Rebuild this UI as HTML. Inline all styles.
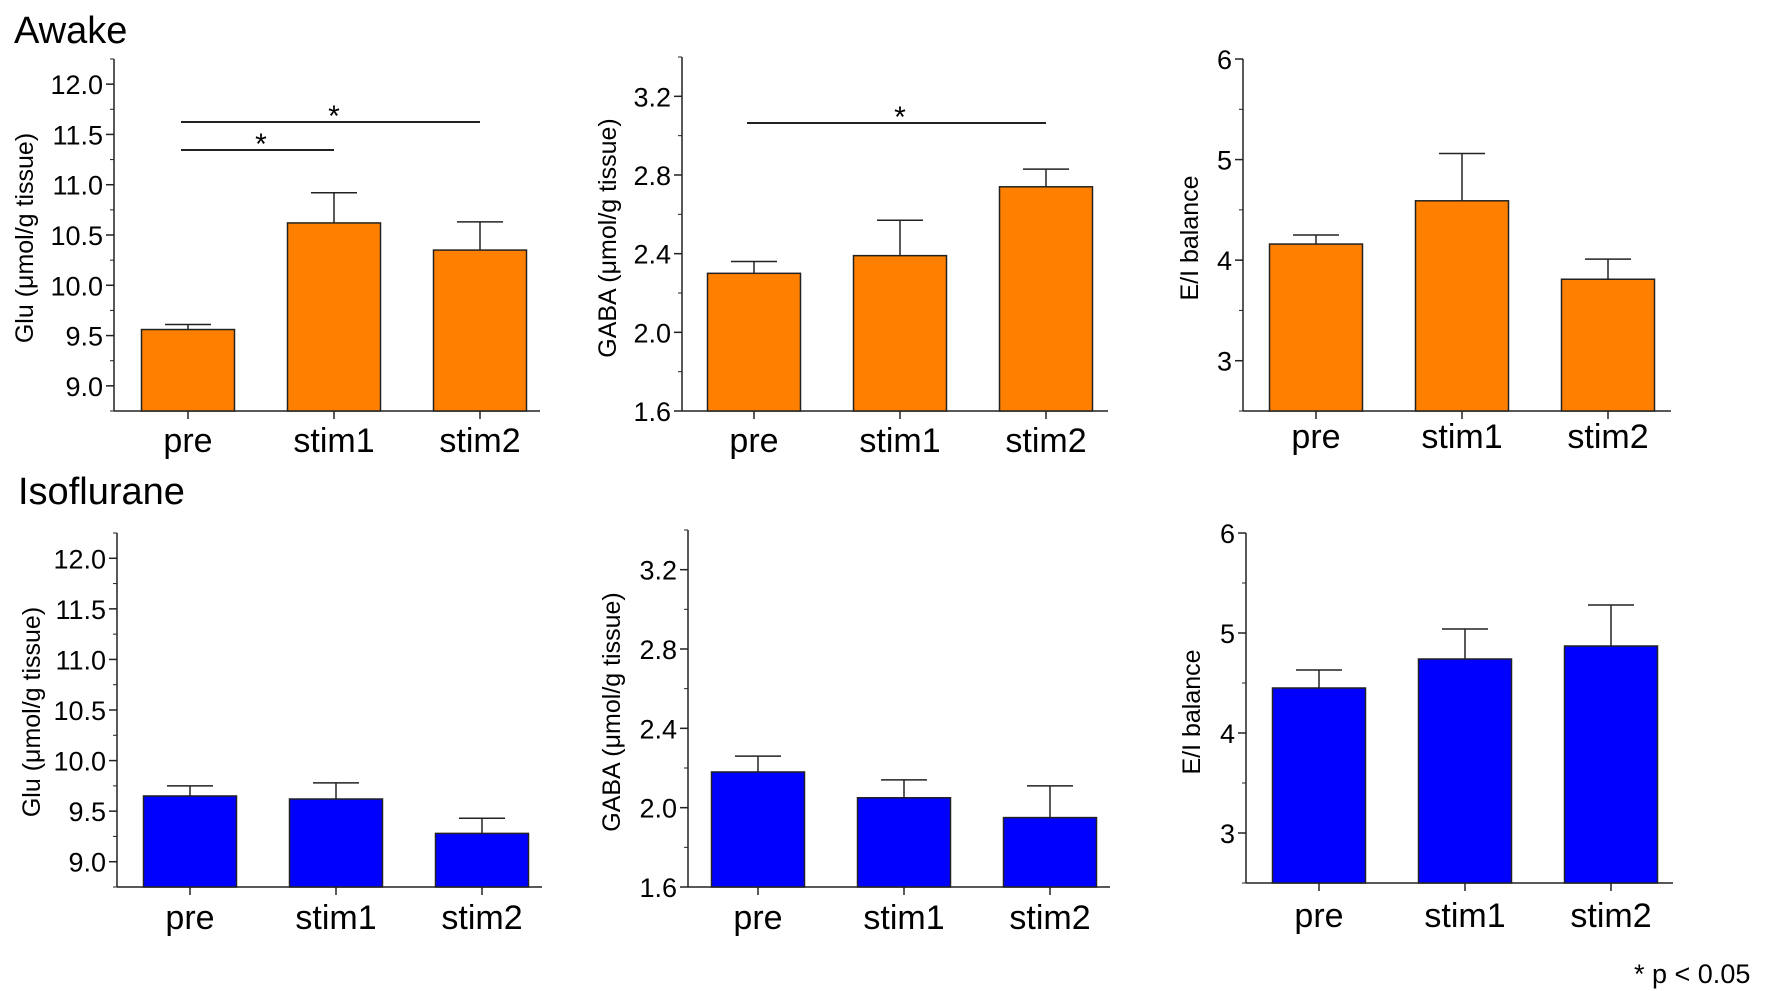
<!DOCTYPE html>
<html><head><meta charset="utf-8"><style>
body{margin:0;background:#fff;}
svg{display:block;font-family:"Liberation Sans Narrow","Liberation Sans",sans-serif;}
</style></head><body>
<svg id="fig" width="1768" height="991" viewBox="0 0 1768 991" xmlns="http://www.w3.org/2000/svg">
<text x="14" y="43" font-size="38" font-family="Liberation Sans, sans-serif">Awake</text>
<text x="18" y="504" font-size="38" font-family="Liberation Sans, sans-serif">Isoflurane</text>
<text x="1634" y="983" font-size="27" font-family="Liberation Sans, sans-serif">* p &lt; 0.05</text>
</svg>
<script>
const categories = ["pre","stim1","stim2"];
const awakeGlu = [9.56, 10.62, 10.35];
const awakeGluErr = [0.05, 0.30, 0.28];
const awakeGaba = [2.30, 2.39, 2.74];
const awakeGabaErr = [0.06, 0.18, 0.09];
const awakeEI = [4.16, 4.59, 3.81];
const awakeEIErr = [0.09, 0.47, 0.20];
const isoGlu = [9.65, 9.62, 9.28];
const isoGluErr = [0.10, 0.16, 0.15];
const isoGaba = [2.18, 2.05, 1.95];
const isoGabaErr = [0.08, 0.09, 0.16];
const isoEI = [4.45, 4.74, 4.87];
const isoEIErr = [0.18, 0.30, 0.41];
const gluTicks = ["9.0","9.5","10.0","10.5","11.0","11.5","12.0"];
const gabaTicks = ["1.6","2.0","2.4","2.8","3.2"];
const eiTicks = ["3","4","5","6"];

const NS = "http://www.w3.org/2000/svg";
const svg = document.getElementById('fig');
function mk(tag, attrs, parent){
  const e = document.createElementNS(NS, tag);
  for (const k in attrs) e.setAttribute(k, attrs[k]);
  (parent||svg).appendChild(e);
  return e;
}
function panel(cfg){
  const g = mk('g', {});
  
  
  const y = v => cfg.bottom - (v - cfg.min) / (cfg.max - cfg.min) * (cfg.bottom - cfg.top);
  const ya = mk('line', {x1:cfg.ax, x2:cfg.ax, y1:cfg.top, y2:cfg.bottom, stroke:'#222', 'stroke-width':1.5}, g);
  
  
  const xa = mk('line', {x1:cfg.ax, x2:cfg.axEnd, y1:cfg.bottom, y2:cfg.bottom, stroke:'#222', 'stroke-width':1.5}, g);
  
  
  for (let v = cfg.min; v <= cfg.max + 1e-9; v += cfg.minor){
    mk('line', {x1:cfg.ax-4, x2:cfg.ax, y1:y(v), y2:y(v), stroke:'#222', 'stroke-width':1}, g);
  }
  cfg.ticks.forEach(t => {
    const v = parseFloat(t);
    mk('line', {x1:cfg.ax-8, x2:cfg.ax, y1:y(v), y2:y(v), stroke:'#222', 'stroke-width':1.5}, g);
    const tx = mk('text', {x:cfg.ax-11, y:y(v)+10, 'font-size':27, 'text-anchor':'end'}, g);
    tx.textContent = t;
    
    
  });
  const tt = mk('text', {x:0, y:0, 'font-size':25, 'text-anchor':'middle', transform:`translate(${cfg.titleX},${cfg.titleY}) rotate(-90)`, 'font-family':'Liberation Sans, sans-serif'}, g);
  tt.textContent = cfg.title;
  
  
  const bw = 93, step = 146;
  categories.forEach((c, i) => {
    const cx = cfg.firstX + i * step;
    const v = cfg.vals[i], e = cfg.errs[i];
    const el = mk('line', {x1:cx, x2:cx, y1:y(v+e), y2:y(v), stroke:'#222', 'stroke-width':1.5}, g);
    
    
    mk('line', {x1:cx-23, x2:cx+23, y1:y(v+e), y2:y(v+e), stroke:'#222', 'stroke-width':1.5}, g);
    const r = mk('rect', {x:cx-bw/2, y:y(v), width:bw, height:cfg.bottom - y(v), fill:cfg.color, stroke:'#222', 'stroke-width':1.5}, g);
    
    
    mk('line', {x1:cx, x2:cx, y1:cfg.bottom, y2:cfg.bottom+8, stroke:'#222', 'stroke-width':1.5}, g);
    const lb = mk('text', {x:cx, y:cfg.labelY, 'font-size':34, 'text-anchor':'middle', 'font-family':'Liberation Sans, sans-serif'}, g);
    lb.textContent = c;
    
    
  });
  (cfg.sig || []).forEach(s => {
    const x1 = cfg.firstX + s[0]*step, x2 = cfg.firstX + s[1]*step;
    const l = mk('line', {x1:x1-7, x2:x2, y1:s[2], y2:s[2], stroke:'#222', 'stroke-width':2}, g);
    
    
    const a = mk('text', {x:(x1+x2)/2, y:s[2]+4, 'font-size':30, 'text-anchor':'middle', 'font-family':'Liberation Sans, sans-serif'}, g);
    a.textContent = '*';
    
    
  });
}
panel({name:'awake-glu-chart', ax:114, axEnd:540, top:59, bottom:411, min:8.75, max:12.25, minor:0.25, ticks:gluTicks, firstX:188, vals:awakeGlu, errs:awakeGluErr, color:'#ff8000', title:'Glu (μmol/g tissue)', titleX:33, titleY:238, labelY:452, sig:[[0,1,150],[0,2,122]]});
panel({name:'awake-gaba-chart', ax:682, axEnd:1108, top:57, bottom:411, min:1.6, max:3.4, minor:0.2, ticks:gabaTicks, firstX:754, vals:awakeGaba, errs:awakeGabaErr, color:'#ff8000', title:'GABA (μmol/g tissue)', titleX:616, titleY:238, labelY:452, sig:[[0,2,123]]});
panel({name:'awake-ei-chart', ax:1243, axEnd:1671, top:59, bottom:411, min:2.5, max:6.0, minor:0.5, ticks:eiTicks, firstX:1316, vals:awakeEI, errs:awakeEIErr, color:'#ff8000', title:'E/I balance', titleX:1198, titleY:238, labelY:448});
panel({name:'iso-glu-chart', ax:117, axEnd:542, top:533, bottom:887, min:8.75, max:12.25, minor:0.25, ticks:gluTicks, firstX:190, vals:isoGlu, errs:isoGluErr, color:'#0000ff', title:'Glu (μmol/g tissue)', titleX:40, titleY:712, labelY:929});
panel({name:'iso-gaba-chart', ax:688, axEnd:1110, top:530, bottom:887, min:1.6, max:3.4, minor:0.2, ticks:gabaTicks, firstX:758, vals:isoGaba, errs:isoGabaErr, color:'#0000ff', title:'GABA (μmol/g tissue)', titleX:620, titleY:712, labelY:929});
panel({name:'iso-ei-chart', ax:1246, axEnd:1673, top:533, bottom:883, min:2.5, max:6.0, minor:0.5, ticks:eiTicks, firstX:1319, vals:isoEI, errs:isoEIErr, color:'#0000ff', title:'E/I balance', titleX:1200, titleY:712, labelY:927});
</script>
</body></html>
